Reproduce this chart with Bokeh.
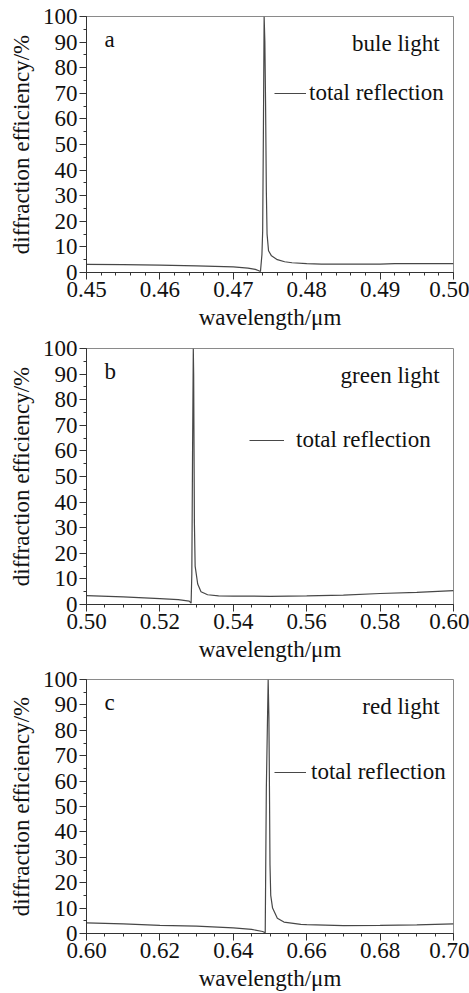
from bokeh.plotting import figure
from bokeh.layouts import column
from bokeh.models import Range1d, FixedTicker, SingleIntervalTicker, Legend, LegendItem, Label
from bokeh.embed import file_html
from bokeh.resources import INLINE

# ---- data ----
wl_a = [0.450, 0.455, 0.460, 0.465, 0.470, 0.472, 0.473, 0.4734, 0.4737, 0.4739, 0.4740,
        0.4741, 0.4742, 0.4743, 0.4744, 0.4745, 0.4746, 0.4748, 0.4752, 0.476, 0.477,
        0.478, 0.480, 0.482, 0.485, 0.490, 0.492, 0.495, 0.500]
eff_a = [3.2, 3.1, 2.9, 2.6, 2.2, 1.7, 1.2, 0.8, 0.4, 7, 16,
         55, 100, 90, 65, 32, 15, 8.5, 6.5, 5.0, 4.2,
         3.8, 3.5, 3.3, 3.3, 3.3, 3.5, 3.5, 3.5]

wl_b = [0.500, 0.510, 0.520, 0.525, 0.528, 0.5285, 0.5287, 0.5289, 0.5291, 0.5292, 0.5294,
        0.5296, 0.5303, 0.5312, 0.533, 0.536, 0.540, 0.550, 0.560, 0.570, 0.580, 0.590, 0.600]
eff_b = [3.5, 3.0, 2.3, 1.9, 1.3, 0.5, 12, 60, 100, 90, 32,
         15, 8, 5, 3.8, 3.4, 3.3, 3.2, 3.4, 3.7, 4.3, 4.7, 5.4]

wl_c = [0.600, 0.610, 0.620, 0.630, 0.640, 0.645, 0.648, 0.6487, 0.6490, 0.6495, 0.6497,
        0.6498, 0.6500, 0.6502, 0.6507, 0.652, 0.6538, 0.6584, 0.660, 0.670, 0.680, 0.690, 0.700]
eff_c = [4.2, 3.8, 3.2, 2.9, 2.2, 1.6, 0.8, 0.3, 57, 100, 85,
         68, 27, 15, 10, 6, 4.5, 3.6, 3.5, 3.1, 3.2, 3.4, 3.8]

ticks_a = [0.45, 0.46, 0.47, 0.48, 0.49, 0.50]
ticks_b = [0.50, 0.52, 0.54, 0.56, 0.58, 0.60]
ticks_c = [0.60, 0.62, 0.64, 0.66, 0.68, 0.70]
tick_labels_a = ["0.45", "0.46", "0.47", "0.48", "0.49", "0.50"]
tick_labels_b = ["0.50", "0.52", "0.54", "0.56", "0.58", "0.60"]
tick_labels_c = ["0.60", "0.62", "0.64", "0.66", "0.68", "0.70"]
minor_steps = [5, 4, 4]   # minor intervals per major interval

panel_letters = ["a", "b", "c"]
light_names = ["bule light", "green light", "red light"]
legend_label = "total reflection"
x_title = "wavelength/\u03bcm"
y_title = "diffraction efficiency/%"

FONT = "'Liberation Serif'"
FS = "23px"
LINE = "#474747"
TXT = "#111111"


def make_panel(wl, eff, ticks, labels, nminor, letter, name, height, top,
               leg_loc, glyph_w, standoff):
    xr = (ticks[0], ticks[-1])
    step = (ticks[1] - ticks[0]) / nminor
    minor = [round(ticks[0] + i * step, 6) for i in range(int(round((xr[1] - xr[0]) / step)) + 1)]
    p = figure(width=469, height=height, output_backend="svg", toolbar_location=None,
               x_range=Range1d(*xr), y_range=Range1d(0, 100),
               min_border_left=86, min_border_right=16,
               min_border_top=top, min_border_bottom=30)
    p.grid.visible = False
    p.outline_line_color = "#8a8a8a"
    p.outline_line_width = 1
    p.background_fill_color = "white"
    p.border_fill_color = "white"

    p.xaxis.ticker = FixedTicker(ticks=ticks, minor_ticks=minor)
    p.xaxis.major_label_overrides = {t: l for t, l in zip(ticks, labels)}
    p.yaxis.ticker = SingleIntervalTicker(interval=10, num_minor_ticks=2)

    p.axis.axis_line_color = "#333333"
    p.axis.major_tick_line_color = "#333333"
    p.axis.minor_tick_line_color = "#333333"
    p.axis.major_tick_out = 7
    p.axis.major_tick_in = 0
    p.axis.minor_tick_out = 3
    p.axis.minor_tick_in = 0
    p.axis.major_label_text_font = FONT
    p.axis.major_label_text_font_size = FS
    p.axis.major_label_text_color = TXT
    p.axis.axis_label_text_font = FONT
    p.axis.axis_label_text_font_size = FS
    p.axis.axis_label_text_font_style = "normal"
    p.axis.axis_label_text_color = TXT
    p.xaxis.major_label_standoff = 2
    p.xaxis.axis_label_standoff = 5
    p.yaxis.major_label_standoff = 2
    p.yaxis.axis_label_standoff = 6
    p.xaxis.axis_label = x_title
    p.yaxis.axis_label = y_title

    r = p.line(wl, eff, line_color=LINE, line_width=1.2)

    legend = Legend(items=[LegendItem(label=legend_label, renderers=[r])],
                    location=leg_loc, glyph_width=glyph_w, label_standoff=standoff,
                    padding=0, margin=0, border_line_alpha=0, background_fill_alpha=0,
                    label_text_font=FONT, label_text_font_size=FS, label_text_color=TXT)
    p.add_layout(legend, "center")

    span = xr[1] - xr[0]
    p.add_layout(Label(x=xr[0] + 0.049 * span, y=91, text=letter, text_font=FONT,
                       text_font_size=FS, text_baseline="middle", text_align="left",
                       text_color=TXT))
    p.add_layout(Label(x=xr[0] + 0.962 * span, y=89.5, text=name, text_font=FONT,
                       text_font_size=FS, text_baseline="middle", text_align="right",
                       text_color=TXT))
    return p


p1 = make_panel(wl_a, eff_a, ticks_a, tick_labels_a, minor_steps[0], panel_letters[0],
                light_names[0], 332, 16, (188, 166), 32, 3)
p2 = make_panel(wl_b, eff_b, ticks_b, tick_labels_b, minor_steps[1], panel_letters[1],
                light_names[1], 332, 16, (163, 151), 35, 12)
p3 = make_panel(wl_c, eff_c, ticks_c, tick_labels_c, minor_steps[2], panel_letters[2],
                light_names[2], 329, 15, (188, 148), 32, 5)

layout = column(p1, p2, p3, spacing=0)
open("out.html", "w").write(file_html(layout, INLINE))
